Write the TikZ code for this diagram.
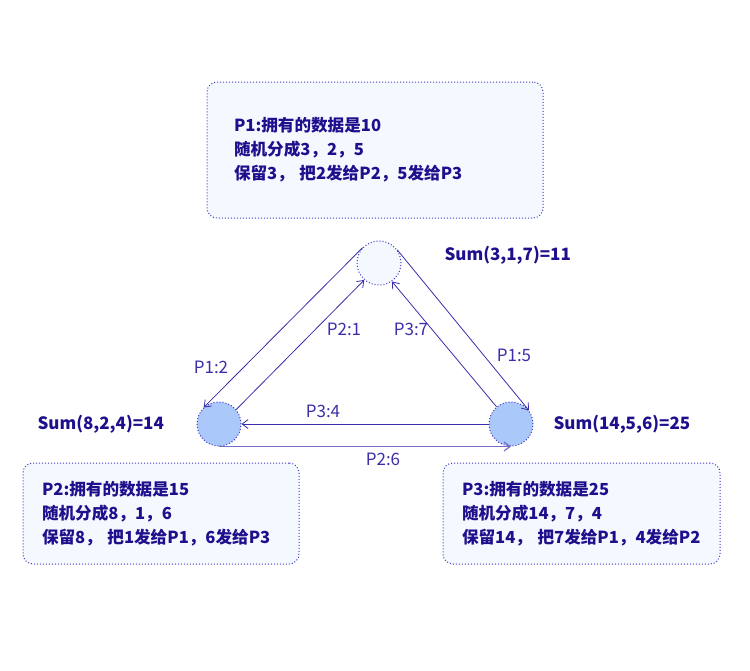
\documentclass[tikz,border=0pt]{standalone}
\usepackage{fontspec}
\setmainfont{Noto Sans CJK SC}
\usetikzlibrary{arrows.meta}
\definecolor{inkblue}{RGB}{30,16,140}
\definecolor{lineblue}{RGB}{58,46,170}
\definecolor{dotblue}{RGB}{66,56,196}
\definecolor{paleblue}{RGB}{244,248,255}
\definecolor{ballblue}{RGB}{170,200,250}

\begin{document}
\begin{tikzpicture}[x=1pt,y=-1pt,
    infobox/.style={draw=dotblue,dotted,line width=1pt,fill=paleblue,rounded corners=10pt,
        align=left,text=inkblue,font=\fontsize{16.6}{24}\selectfont\bfseries,inner ysep=0pt},
    party/.style={circle,draw=dotblue,dotted,line width=1pt,minimum size=44pt,inner sep=0pt},
    sumlabel/.style={anchor=west,text=inkblue,font=\fontsize{17}{20}\selectfont\bfseries},
    msg/.style={text=lineblue,font=\fontsize{17}{20}\selectfont},
    send/.style={draw=lineblue,line width=0.8pt,-{Straight Barb[length=6pt,width=9pt]}}]
    \useasboundingbox (0,0) rectangle (750,670);
    \node [infobox,minimum width=336pt,minimum height=136pt,text width=282pt,inner xsep=27pt] (box1) at (375,150)
        {P1:拥有的数据是10\\随机分成3，2，5\\保留3， 把2发给P2，5发给P3};
    \node [infobox,minimum width=276pt,minimum height=101pt,text width=238pt,inner xsep=19pt] (box2) at (161,513.5)
        {P2:拥有的数据是15\\随机分成8，1，6\\保留8， 把1发给P1，6发给P3};
    \node [infobox,minimum width=277pt,minimum height=101pt,text width=239pt,inner xsep=19pt] (box3) at (581.5,513.5)
        {P3:拥有的数据是25\\随机分成14，7，4\\保留14， 把7发给P1，4发给P2};
    \node [party,fill=paleblue] (p1) at (379,263) {};
    \node [party,fill=ballblue] (p2) at (219,424) {};
    \node [party,fill=ballblue] (p3) at (511,424) {};
    \node [sumlabel] (sum1) at (441,255) {Sum(3,1,7)=11};
    \node [sumlabel] (sum2) at (34,424) {Sum(8,2,4)=14};
    \node [sumlabel] (sum3) at (550,424) {Sum(14,5,6)=25};
    \draw [send] (p1.137) -- (p2.133);
    \draw [send] (p2.40) -- (p1.229);
    \draw [send] (p1.36) -- (p3.37);
    \draw [send] (p3.130) -- (p1.305);
    \draw [send] (p3.west) -- (p2.east);
    \draw [send,draw=lineblue!70,line width=1.2pt] (p2.south) -- (p3.south);
    \node [msg] (m12) at (211,367) {P1:2};
    \node [msg] (m21) at (344,329) {P2:1};
    \node [msg] (m37) at (411,329) {P3:7};
    \node [msg] (m15) at (514,355) {P1:5};
    \node [msg] (m34) at (323,411) {P3:4};
    \node [msg] (m26) at (383,459) {P2:6};
\end{tikzpicture}
\end{document}
